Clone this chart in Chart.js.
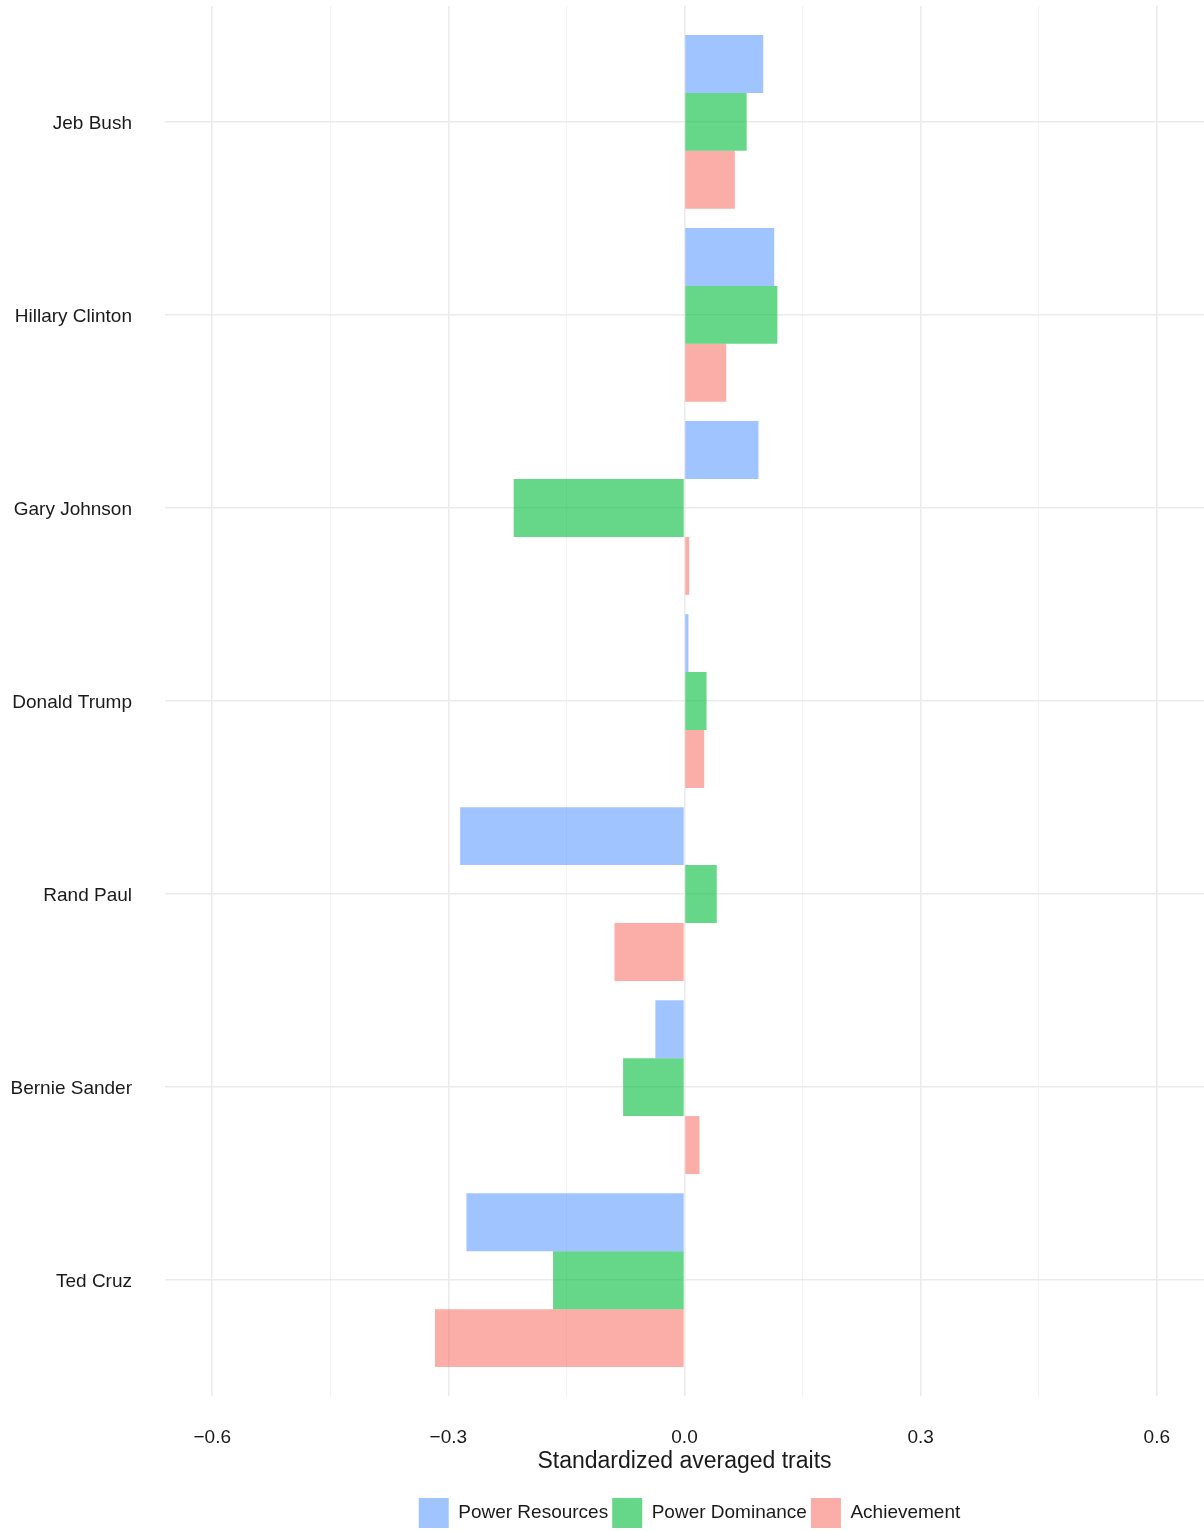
<!DOCTYPE html>
<html>
<head>
<meta charset="utf-8">
<title>Standardized averaged traits</title>
<script src="https://cdn.jsdelivr.net/npm/chart.js@4/dist/chart.umd.min.js"></script>
<style>
    html, body { margin: 0; padding: 0; background: #fff; }
    #wrap { position: relative; width: 1204px; height: 1531px; }
</style>
</head>
<body>
<div id="wrap"><canvas id="traitsChart"></canvas></div>
<script>
const candidates = ['Jeb Bush', 'Hillary Clinton', 'Gary Johnson', 'Donald Trump', 'Rand Paul', 'Bernie Sander', 'Ted Cruz'];
const powerResources = [0.100, 0.114, 0.094, 0.005, -0.285, -0.037, -0.277];
const powerDominance = [0.079, 0.118, -0.217, 0.028, 0.041, -0.078, -0.167];
const achievement = [0.064, 0.053, 0.006, 0.025, -0.089, 0.019, -0.317];
const xTicks = [-0.6, -0.45, -0.3, -0.15, 0, 0.15, 0.3, 0.45, 0.6];

const textColor = '#1a1a1a';
const fontFamily = '"Liberation Sans", Arial, sans-serif';

// bars sit on a numeric index axis so the top/bottom padding can be 0.6 of a band
function toPoints(values) {
    return values.map((v, i) => ({ x: v, y: i }));
}

function isMajor(v) {
    return Math.abs(Math.round(v / 0.3) * 0.3 - v) < 1e-6;
}

function formatTick(v) {
    const s = Math.abs(v).toFixed(1);
    return v < -1e-9 ? '\u2212' + s : s;
}

// centre the legend under the plot panel and drop it a few pixels
const legendPlacement = {
    id: 'legendPlacement',
    afterLayout(chart) {
        const legend = chart.legend;
        const area = chart.chartArea;
        const dx = (area.left + area.right) / 2 - (legend.left + legend.right) / 2 + 5;
        legend.left += dx;
        legend.right += dx;
        legend.top += 7;
        legend.bottom += 7;
    }
};

const config = {
    type: 'bar',
    data: {
        datasets: [
            {
                label: 'Power Resources',
                data: toPoints(powerResources),
                backgroundColor: 'rgba(97, 156, 255, 0.6)'
            },
            {
                label: 'Power Dominance',
                data: toPoints(powerDominance),
                backgroundColor: 'rgba(0, 186, 56, 0.6)'
            },
            {
                label: 'Achievement',
                data: toPoints(achievement),
                backgroundColor: 'rgba(248, 118, 109, 0.6)'
            }
        ]
    },
    options: {
        indexAxis: 'y',
        responsive: true,
        maintainAspectRatio: false,
        animation: false,
        datasets: {
            bar: {
                categoryPercentage: 0.9,
                barPercentage: 1.0,
                borderWidth: 0
            }
        },
        layout: {
            padding: { top: 6, right: 0, bottom: 0, left: 0 }
        },
        plugins: {
            tooltip: { enabled: false },
            legend: {
                position: 'bottom',
                labels: {
                    boxWidth: 30,
                    boxHeight: 30,
                    padding: 4,
                    color: textColor,
                    font: { family: fontFamily, size: 19 }
                }
            }
        },
        scales: {
            x: {
                type: 'linear',
                min: -0.66,
                max: 0.66,
                afterBuildTicks: (scale) => {
                    scale.ticks = xTicks.map(v => ({ value: v }));
                },
                afterFit: (scale) => {
                    scale.height = 91;
                },
                border: { display: false },
                grid: {
                    drawTicks: false,
                    color: (ctx) => isMajor(ctx.tick.value) ? '#ebebeb' : '#f3f3f3',
                    lineWidth: (ctx) => isMajor(ctx.tick.value) ? 1.6 : 1
                },
                ticks: {
                    padding: 30,
                    maxRotation: 0,
                    autoSkip: false,
                    color: textColor,
                    font: { family: fontFamily, size: 19 },
                    callback: (v) => isMajor(v) ? formatTick(v) : ''
                },
                title: {
                    display: true,
                    text: 'Standardized averaged traits',
                    color: textColor,
                    font: { family: fontFamily, size: 23 },
                    padding: { top: 0, bottom: 12 }
                }
            },
            y: {
                type: 'linear',
                reverse: true,
                offset: false,
                min: -0.6,
                max: candidates.length - 0.4,
                afterBuildTicks: (scale) => {
                    scale.ticks = candidates.map((_, i) => ({ value: i }));
                },
                afterFit: (scale) => {
                    scale.width = 165;
                    scale.paddingTop = 0;
                    scale.paddingBottom = 0;
                },
                border: { display: false },
                grid: {
                    offset: false,
                    drawTicks: false,
                    color: '#ebebeb',
                    lineWidth: 1.6
                },
                ticks: {
                    padding: 33,
                    labelOffset: 2,
                    autoSkip: false,
                    color: textColor,
                    font: { family: fontFamily, size: 19 },
                    callback: (v) => candidates[v] ?? ''
                }
            }
        }
    },
    plugins: [legendPlacement]
};

const ctx = document.getElementById('traitsChart').getContext('2d');
const chart = new Chart(ctx, config);
</script>
</body>
</html>
